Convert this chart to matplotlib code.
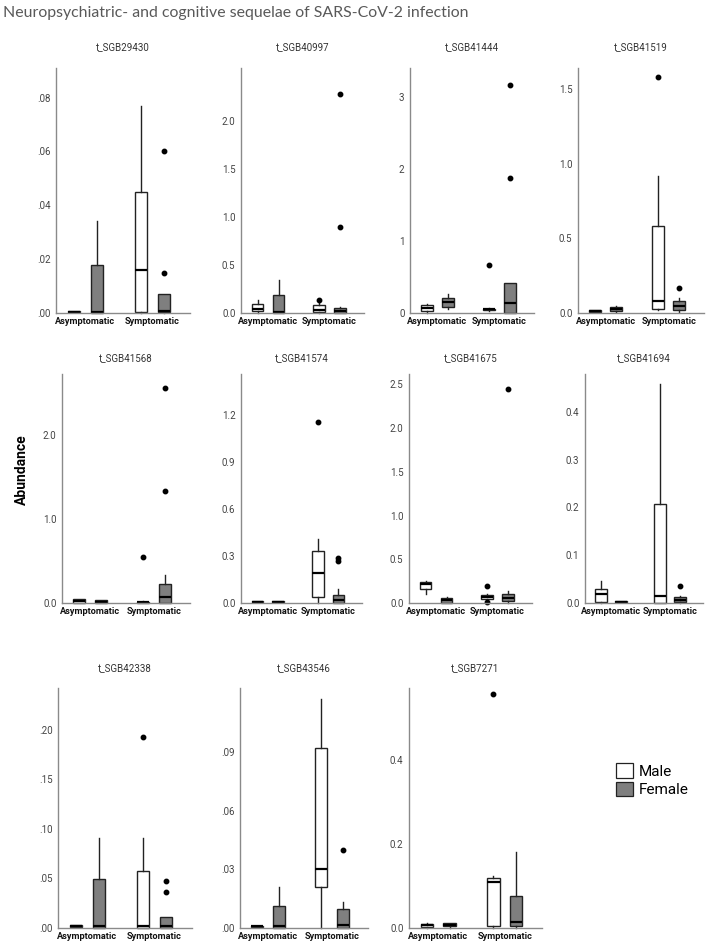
import matplotlib
matplotlib.use("Agg")
import matplotlib.pyplot as plt
from matplotlib.patches import Patch

# panel names, in reading order
taxa = ["t_SGB29430", "t_SGB40997", "t_SGB41444", "t_SGB41519",
        "t_SGB41568", "t_SGB41574", "t_SGB41675", "t_SGB41694",
        "t_SGB42338", "t_SGB43546", "t_SGB7271"]
groups = ["Asymptomatic", "Symptomatic"]
sexes = ["Male", "Female"]

# box statistics per panel, boxes ordered: Asym-Male, Asym-Female, Sym-Male, Sym-Female
q1 = [[0.0002, 0.0, 0.0003, 0.0002],
      [0.02, 0.0, 0.01, 0.0],
      [0.03, 0.09, 0.04, 0.0],
      [0.01, 0.015, 0.03, 0.02],
      [0.0, 0.0, 0.005, 0.0],
      [0.005, 0.006, 0.04, 0.0],
      [0.16, 0.0, 0.05, 0.02],
      [0.003, 0.002, 0.0, 0.002],
      [0.001, 0.0, 0.0, 0.0],
      [0.0005, 0.0, 0.021, 0.0],
      [0.003, 0.004, 0.005, 0.005]]
med = [[0.0004, 0.0005, 0.016, 0.0006],
       [0.04, 0.01, 0.03, 0.02],
       [0.07, 0.15, 0.05, 0.14],
       [0.015, 0.025, 0.08, 0.05],
       [0.02, 0.01, 0.01, 0.07],
       [0.008, 0.009, 0.19, 0.02],
       [0.22, 0.03, 0.07, 0.06],
       [0.018, 0.003, 0.015, 0.007],
       [0.002, 0.002, 0.002, 0.002],
       [0.0008, 0.001, 0.030, 0.0014],
       [0.006, 0.008, 0.11, 0.015]]
q3 = [[0.0006, 0.018, 0.045, 0.007],
      [0.09, 0.19, 0.08, 0.05],
      [0.11, 0.21, 0.06, 0.42],
      [0.02, 0.04, 0.58, 0.08],
      [0.05, 0.03, 0.015, 0.23],
      [0.012, 0.012, 0.33, 0.05],
      [0.24, 0.06, 0.09, 0.10],
      [0.03, 0.004, 0.208, 0.013],
      [0.003, 0.049, 0.057, 0.011],
      [0.001, 0.011, 0.092, 0.0096],
      [0.01, 0.012, 0.12, 0.077]]
wlo = [[0.0002, 0.0, 0.0, 0.0],
       [0.0, 0.0, 0.0, 0.0],
       [0.0, 0.05, 0.03, 0.0],
       [0.01, 0.01, 0.02, 0.01],
       [0.0, 0.0, 0.0, 0.0],
       [0.005, 0.006, 0.0, 0.0],
       [0.10, 0.0, 0.04, 0.0],
       [0.0, 0.002, 0.0, 0.0],
       [0.001, 0.0, 0.0, 0.0],
       [0.0005, 0.0, 0.0, 0.0],
       [0.0, 0.0, 0.0, 0.0]]
whi = [[0.0006, 0.034, 0.077, 0.007],
       [0.14, 0.34, 0.10, 0.06],
       [0.13, 0.26, 0.07, 0.42],
       [0.02, 0.045, 0.92, 0.10],
       [0.05, 0.03, 0.02, 0.33],
       [0.012, 0.012, 0.41, 0.09],
       [0.25, 0.07, 0.10, 0.14],
       [0.045, 0.004, 0.458, 0.015],
       [0.003, 0.091, 0.091, 0.011],
       [0.001, 0.021, 0.117, 0.0134],
       [0.012, 0.013, 0.125, 0.18]]
outliers = [[[], [], [], [0.015, 0.060]],
            [[], [], [0.14], [0.89, 2.28]],
            [[], [], [0.67], [1.88, 3.16]],
            [[], [], [1.58], [0.17]],
            [[], [], [0.55], [1.33, 2.55]],
            [[], [], [1.155], [0.27, 0.29]],
            [[], [], [0.01, 0.19], [2.45]],
            [[], [], [], [0.035]],
            [[], [], [0.193], [0.036, 0.047]],
            [[], [], [], [0.040]],
            [[], [], [0.557], []]]

# axis tops and tick values
y_top = [0.091, 2.55, 3.4, 1.64, 2.72, 1.46, 2.62, 0.479, 0.242, 0.1226, 0.572]
y_ticks = [[0, 0.02, 0.04, 0.06, 0.08],
           [0, 0.5, 1.0, 1.5, 2.0],
           [0, 1, 2, 3],
           [0, 0.5, 1.0, 1.5],
           [0, 1.0, 2.0],
           [0, 0.3, 0.6, 0.9, 1.2],
           [0, 0.5, 1.0, 1.5, 2.0, 2.5],
           [0, 0.1, 0.2, 0.3, 0.4],
           [0, 0.05, 0.10, 0.15, 0.20],
           [0, 0.03, 0.06, 0.09],
           [0, 0.2, 0.4]]
tick_style = ["dot", "one", "int", "one", "one", "one", "one", "one", "dot", "dot", "one"]

W, H = 710, 946
# pixel boxes (left, right, top, bottom) of each panel, and title heights per row
panel_px = [(56, 190, 68, 313), (241, 364, 68, 313), (410, 534, 68, 313), (578, 704, 68, 313),
            (62, 190, 374, 603), (241, 362, 374, 603), (409, 532, 374, 603), (585, 703, 374, 603),
            (58, 192, 688, 928), (240, 368, 688, 928), (409, 542, 688, 928)]
title_px = [47, 358, 668]

plt.rcParams["font.family"] = ["Roboto", "DejaVu Sans"]
fig = plt.figure(figsize=(W / 100, H / 100), dpi=100)

fills = ["white", "#7f7f7f"]
edge = "#222222"


def fmt(v, style):
    if style == "dot":
        return f"{v:.2f}".lstrip("0")
    if style == "int":
        return f"{v:.0f}"
    return f"{v:.1f}"


for i, name in enumerate(taxa):
    l, r, t, b = panel_px[i]
    ax = fig.add_axes([l / W, 1 - b / H, (r - l) / W, (b - t) / H])
    stats, pos, cols = [], [], []
    for g in range(2):
        for s in range(2):
            k = g * 2 + s
            stats.append(dict(q1=q1[i][k], med=med[i][k], q3=q3[i][k],
                              whislo=wlo[i][k], whishi=whi[i][k], fliers=outliers[i][k]))
            pos.append(g + (-0.17 if s == 0 else 0.17))
            cols.append(fills[s])
    art = ax.bxp(stats, positions=pos, widths=0.19, patch_artist=True, showcaps=False,
                 boxprops=dict(edgecolor=edge, linewidth=1.0),
                 medianprops=dict(color="black", linewidth=1.6),
                 whiskerprops=dict(color=edge, linewidth=1.0),
                 flierprops=dict(marker="o", markersize=3.2, markerfacecolor="black",
                                 markeredgecolor="black"))
    for patch, c in zip(art["boxes"], cols):
        patch.set_facecolor(c)
    for a in art["boxes"] + art["medians"] + art["whiskers"] + art["fliers"]:
        a.set_clip_on(False)
    ax.set_xlim(-0.44, 1.56)
    ax.set_ylim(0, y_top[i])
    ax.set_xticks([0, 1])
    ax.set_xticklabels(groups, fontsize=6.6, fontweight="bold", color="#111111")
    ax.set_yticks(y_ticks[i])
    ax.set_yticklabels([fmt(v, tick_style[i]) for v in y_ticks[i]], fontsize=7, color="#444444")
    ax.tick_params(length=0, pad=4)
    ax.tick_params(axis="x", pad=3)
    for sp in ["top", "right"]:
        ax.spines[sp].set_visible(False)
    for sp in ["left", "bottom"]:
        ax.spines[sp].set_color("#8a8a8a")
        ax.spines[sp].set_linewidth(1.0)
    ax.set_facecolor("none")
    fig.text((l + r) / 2 / W, 1 - title_px[min(i // 4, 2)] / H, name,
             fontsize=7, color="#333333", ha="center", va="center")

fig.text(3 / W, 1 - 13 / H, "Neuropsychiatric- and cognitive sequelae of SARS-CoV-2 infection",
         fontsize=11.4, color="#595959", family=["Lato", "DejaVu Sans"], va="center", ha="left")
fig.text(22 / W, 1 - 470 / H, "Abundance", rotation=90, fontsize=10, fontweight="bold",
         va="center", ha="center")

handles = [Patch(facecolor=fills[s], edgecolor=edge, linewidth=0.9, label=sexes[s]) for s in range(2)]
fig.legend(handles=handles, loc="upper left", bbox_to_anchor=(610 / W, 1 - 757 / H),
           frameon=False, fontsize=11, handlelength=1.1, handleheight=1.1,
           handletextpad=0.4, labelspacing=0.2, borderaxespad=0)

fig.savefig("out.png", dpi=100)
